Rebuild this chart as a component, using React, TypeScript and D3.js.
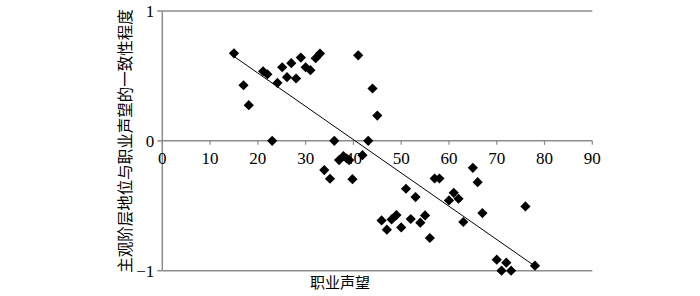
import * as d3 from "d3";

const xTicks = [0, 10, 20, 30, 40, 50, 60, 70, 80, 90];
const yTicks = [1, 0, -1];

// 职业声望
const prestige = [
  15, 17, 18.1, 21.1, 22, 23, 24.1, 25.1, 26.1, 27, 28, 29, 30, 31, 32.1, 33,
  36, 41, 44, 45, 43.1, 33.9, 35.1, 37, 37.9, 38.6, 39.1, 39.8, 41.9,
  45.9, 47, 48, 49, 50, 51, 52, 53, 54, 55, 56, 57, 58, 60, 61, 62, 63,
  65, 66, 67, 70, 71, 72, 73, 76, 78,
];
// 一致性程度
const consistency = [
  0.674, 0.428, 0.275, 0.536, 0.513, 0, 0.446, 0.567, 0.49, 0.598, 0.48, 0.641, 0.567, 0.544, 0.636, 0.672,
  0, 0.659, 0.403, 0.195, 0, -0.225, -0.292, -0.148, -0.118, -0.136, -0.148, -0.295, -0.11,
  -0.613, -0.684, -0.605, -0.572, -0.667, -0.369, -0.602, -0.433, -0.63, -0.574, -0.748, -0.29, -0.29, -0.459, -0.4, -0.446, -0.625,
  -0.208, -0.318, -0.556, -0.915, -1.0, -0.938, -1.0, -0.505, -0.961,
];

const trendX = [15, 78];
const trendY = [0.65, -0.965];

const W = 700;
const H = 296;
const GRAY = "#8c8c8c";
const SERIF = "'Liberation Serif', 'Times New Roman', Times, serif";
const CJK = "'Noto Sans CJK SC', sans-serif";

export default function App() {
  const x = d3.scaleLinear().domain([0, 90]).range([162.3, 592.3]);
  const y = d3.scaleLinear().domain([-1, 1]).range([270.7, 11]);

  const diamond = d3.symbol().type(d3.symbolSquare).size(52)();
  const trend = d3
    .line<number>()
    .x((d) => x(d))
    .y((_, i) => y(trendY[i]))(trendX);

  return (
    <svg
      width={W}
      height={H}
      style={{ position: "absolute", left: 0, top: 0, background: "#fff" }}
    >
      {/* grid lines at 1 and -1 */}
      {[1, -1].map((v) => (
        <line key={v} x1={x(0)} x2={x(90)} y1={y(v)} y2={y(v)} stroke={GRAY} strokeWidth={1.5} />
      ))}
      {/* y axis */}
      <line x1={x(0)} x2={x(0)} y1={y(1)} y2={y(-1)} stroke={GRAY} strokeWidth={1.5} />
      {yTicks.map((t) => (
        <g key={t}>
          <line x1={x(0) - 5} x2={x(0)} y1={y(t)} y2={y(t)} stroke={GRAY} strokeWidth={1.5} />
          <text
            x={x(0) - 8}
            y={y(t)}
            dy="0.35em"
            textAnchor="end"
            style={{ fontFamily: SERIF }}
            fontSize={17}
          >
            {t < 0 ? "\u2212" + Math.abs(t) : t}
          </text>
        </g>
      ))}
      {/* x axis at 0 */}
      <line x1={x(0)} x2={x(90)} y1={y(0)} y2={y(0)} stroke={GRAY} strokeWidth={1.5} />
      {xTicks.map((t) => (
        <g key={t}>
          <line x1={x(t)} x2={x(t)} y1={y(0)} y2={y(0) + 4} stroke={GRAY} strokeWidth={1.2} />
          <text
            x={x(t)}
            y={y(0) + 23}
            textAnchor="middle"
            style={{ fontFamily: SERIF }}
            fontSize={17}
          >
            {t}
          </text>
        </g>
      ))}
      {/* points */}
      {prestige.map((p, i) => (
        <path
          key={i}
          d={diamond}
          transform={`translate(${x(p)},${y(consistency[i])}) rotate(45)`}
          fill="#000"
        />
      ))}
      <path d={trend ?? ""} fill="none" stroke="#000" strokeWidth={1} />
      {/* axis titles */}
      <text
        x={340}
        y={283}
        dy="0.35em"
        textAnchor="middle"
        style={{ fontFamily: CJK }}
        fontSize={15}
      >
        职业声望
      </text>
      <text
        transform={`translate(126,${141}) rotate(-90)`}
        textAnchor="middle"
        dy="0.35em"
        style={{ fontFamily: CJK }}
        fontSize={15.5}
      >
        主观阶层地位与职业声望的一致性程度
      </text>
    </svg>
  );
}
